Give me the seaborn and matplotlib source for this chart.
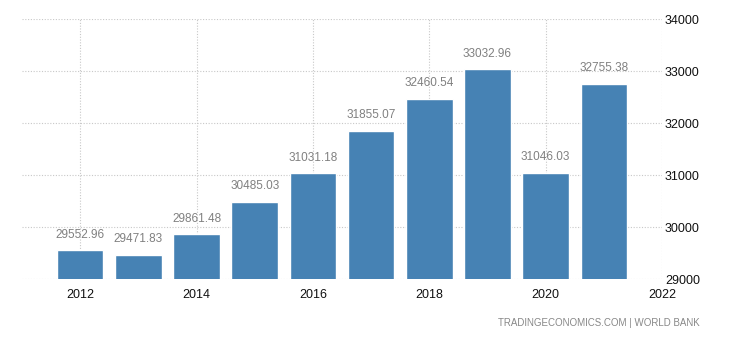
import matplotlib
matplotlib.use("Agg")
import matplotlib.pyplot as plt
import seaborn as sns
import pandas as pd

years = [2012, 2013, 2014, 2015, 2016, 2017, 2018, 2019, 2020, 2021]
values = [29552.96, 29471.83, 29861.48, 30485.03, 31031.18, 31855.07, 32460.54, 33032.96, 31046.03, 32755.38]
x_ticks = [2012, 2014, 2016, 2018, 2020, 2022]
y_ticks = [29000, 30000, 31000, 32000, 33000, 34000]

sns.set_theme(style="white")
plt.rcParams['font.family'] = ['Liberation Sans', 'DejaVu Sans']

df = pd.DataFrame({"year": years, "value": values})

fig = plt.figure(figsize=(7.3, 3.4), dpi=100)
ax = fig.add_axes([0.030, 0.179, 0.877, 0.765])

sns.barplot(data=df, x="year", y="value", native_scale=True, color="#4682B4",
            saturation=1, width=0.8, ax=ax, zorder=3)

ax.set_xlim(2011, 2022)
ax.set_ylim(29000, 34000)
ax.set_xticks(x_ticks)
ax.set_xticklabels([str(t) for t in x_ticks])
ax.set_yticks(y_ticks)
ax.set_yticklabels([str(t) for t in y_ticks])
ax.yaxis.tick_right()
ax.tick_params(axis="both", length=0, labelsize=9, colors="#111111")
ax.tick_params(axis="y", pad=2)
ax.tick_params(axis="x", pad=7)
ax.set_xlabel("")
ax.set_ylabel("")
for s in ax.spines.values():
    s.set_visible(False)
ax.grid(True, linestyle=(0, (1, 1.5)), color="#c8c8c8", linewidth=0.8, zorder=0)
ax.set_axisbelow(True)

for yr, v in zip(years, values):
    ax.annotate(f"{v:.2f}", xy=(yr, v), xytext=(0, 7), textcoords="offset points",
                ha="center", va="bottom", fontsize=8.5, color="#808080")

fig.text(0.958, 0.035, "TRADINGECONOMICS.COM | WORLD BANK", ha="right", va="bottom",
         fontsize=7, color="#888888")

fig.savefig("out.png", dpi=100)
